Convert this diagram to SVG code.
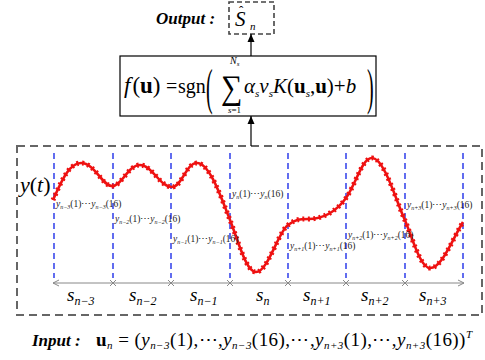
<svg xmlns="http://www.w3.org/2000/svg" width="485" height="360" viewBox="0 0 485 360">
<style>
.serif{font-family:"Liberation Serif","Times New Roman",serif;fill:#000}
.it{font-style:italic}
.bi{font-style:italic;font-weight:bold}
.b{font-weight:bold}
.vline{stroke:#2030e8;stroke-width:1.4;stroke-dasharray:6 4;fill:none}
.lbl{font-family:"Liberation Serif","Times New Roman",serif;font-size:9.5px;fill:#222}
.sub{font-size:6px}
.tick{stroke:#888;stroke-width:1}
.slab{font-family:"Liberation Serif","Times New Roman",serif;font-size:19px;font-style:italic;fill:#000}
.ssub{font-size:12px}
</style>
<defs>
<marker id="ah" markerWidth="10" markerHeight="10" refX="8" refY="5" orient="auto" markerUnits="userSpaceOnUse">
<path d="M0,1.5 L8,5 L0,8.5 Z" fill="#000"/>
</marker>
<marker id="ax" markerWidth="10" markerHeight="10" refX="7" refY="5" orient="auto-start-reverse" markerUnits="userSpaceOnUse">
<path d="M1,2 L7,5 L1,8" fill="none" stroke="#888" stroke-width="1"/>
</marker>
</defs>

<g id="output">
<text class="serif bi" x="156" y="24" font-size="17">Output :</text>
<rect x="229" y="2" width="45" height="32" fill="none" stroke="#444" stroke-width="1.6" stroke-dasharray="5 3"/>
<text class="serif it" x="235" y="26" font-size="21">S</text>
<text class="serif" x="239" y="15" font-size="13">ˆ</text>
<text class="serif it" x="250" y="30" font-size="11">n</text>
</g>

<g id="svm">
<rect x="120" y="56" width="256" height="60" fill="#fff" stroke="#000" stroke-width="1.2"/>
<text class="serif" x="124" y="93" font-size="23"><tspan class="it">f</tspan><tspan dx="2">(</tspan><tspan class="b">u</tspan>)</text>
<text class="serif" x="166" y="93" font-size="20">=</text>
<text class="serif" x="178" y="93" font-size="20">sgn</text>
<text class="serif" font-size="20" transform="translate(206,104) scale(1,2.5)">(</text>
<text class="serif" font-size="30" transform="translate(221,99) scale(1,1.15)">∑</text>
<text class="serif it" x="230" y="64" font-size="10">N<tspan font-size="7" dy="2">s</tspan></text>
<text class="serif" x="228" y="113" font-size="9"><tspan class="it">s</tspan>=1</text>
<text class="serif" x="244" y="93" font-size="21"><tspan class="it">α</tspan><tspan class="it" font-size="11" dy="4">s</tspan><tspan class="it" dy="-4">v</tspan><tspan class="it" font-size="11" dy="4">s</tspan><tspan class="it" dy="-4">K</tspan>(<tspan class="b">u</tspan><tspan class="it" font-size="11" dy="4">s</tspan><tspan dy="-4">,</tspan><tspan class="b">u</tspan>)+<tspan class="it">b</tspan></text>
<text class="serif" font-size="20" transform="translate(367,104) scale(1,2.5)">)</text>
</g>

<g id="input">
<rect x="17" y="146" width="465" height="169" fill="none" stroke="#666" stroke-width="2" stroke-dasharray="8 5"/>
<text class="serif it" x="20" y="192" font-size="22">y<tspan font-style="normal">(</tspan>t<tspan font-style="normal">)</tspan></text>
<g id="segments">
<line class="vline" x1="54" y1="153" x2="54" y2="278"/>
<line class="vline" x1="113" y1="153" x2="113" y2="278"/>
<line class="vline" x1="171" y1="153" x2="171" y2="278"/>
<line class="vline" x1="230" y1="153" x2="230" y2="278"/>
<line class="vline" x1="288" y1="153" x2="288" y2="278"/>
<line class="vline" x1="346" y1="153" x2="346" y2="278"/>
<line class="vline" x1="405" y1="153" x2="405" y2="278"/>
<line class="vline" x1="463" y1="153" x2="463" y2="278"/>
</g>
<g id="signal">
<path d="M53,200 C60,185 68,163 81,163 C95,163 102,186 112,186 C122,186 128,165 140,165 C152,165 160,187 172,187 C182,187 186,163 197,163 C210,163 222,200 230,220 C238,240 246,272 256,272 C268,272 278,232 288,225 C296,219 300,219 308,219 C322,219 336,212 346,198 C356,184 362,158 372,158 C384,158 396,200 404,218 C412,236 420,268 430,268 C442,268 452,240 463,222" fill="none" stroke="#ee1111" stroke-width="2.6"/>
<path d="M53,200 C60,185 68,163 81,163 C95,163 102,186 112,186 C122,186 128,165 140,165 C152,165 160,187 172,187 C182,187 186,163 197,163 C210,163 222,200 230,220 C238,240 246,272 256,272 C268,272 278,232 288,225 C296,219 300,219 308,219 C322,219 336,212 346,198 C356,184 362,158 372,158 C384,158 396,200 404,218 C412,236 420,268 430,268 C442,268 452,240 463,222" fill="none" stroke="#ee1111" stroke-width="5" stroke-dasharray="2 3.5"/>
</g>
<g id="labels">
<text class="lbl it" x="56" y="207"><tspan>y</tspan><tspan class="sub" dy="1.5">n−3</tspan><tspan font-style="normal" dy="-1.5">(1)⋯</tspan><tspan>y</tspan><tspan class="sub" dy="1.5">n−3</tspan><tspan font-style="normal" dy="-1.5">(16)</tspan></text>
<text class="lbl it" x="115" y="222"><tspan>y</tspan><tspan class="sub" dy="1.5">n−2</tspan><tspan font-style="normal" dy="-1.5">(1)⋯</tspan><tspan>y</tspan><tspan class="sub" dy="1.5">n−2</tspan><tspan font-style="normal" dy="-1.5">(16)</tspan></text>
<text class="lbl it" x="173" y="242"><tspan>y</tspan><tspan class="sub" dy="1.5">n−1</tspan><tspan font-style="normal" dy="-1.5">(1)⋯</tspan><tspan>y</tspan><tspan class="sub" dy="1.5">n−1</tspan><tspan font-style="normal" dy="-1.5">(16)</tspan></text>
<text class="lbl it" x="232" y="197"><tspan>y</tspan><tspan class="sub" dy="1.5">n</tspan><tspan font-style="normal" dy="-1.5">(1)⋯</tspan><tspan>y</tspan><tspan class="sub" dy="1.5">n</tspan><tspan font-style="normal" dy="-1.5">(16)</tspan></text>
<text class="lbl it" x="290" y="249"><tspan>y</tspan><tspan class="sub" dy="1.5">n+1</tspan><tspan font-style="normal" dy="-1.5">(1)⋯</tspan><tspan>y</tspan><tspan class="sub" dy="1.5">n+1</tspan><tspan font-style="normal" dy="-1.5">(16)</tspan></text>
<text class="lbl it" x="348" y="238"><tspan>y</tspan><tspan class="sub" dy="1.5">n+2</tspan><tspan font-style="normal" dy="-1.5">(1)⋯</tspan><tspan>y</tspan><tspan class="sub" dy="1.5">n+2</tspan><tspan font-style="normal" dy="-1.5">(16)</tspan></text>
<text class="lbl it" x="407" y="208"><tspan>y</tspan><tspan class="sub" dy="1.5">n+3</tspan><tspan font-style="normal" dy="-1.5">(1)⋯</tspan><tspan>y</tspan><tspan class="sub" dy="1.5">n+3</tspan><tspan font-style="normal" dy="-1.5">(16)</tspan></text>
</g>
<g id="axis">
<line x1="53" y1="283" x2="464" y2="283" stroke="#888" stroke-width="1" marker-start="url(#ax)" marker-end="url(#ax)"/>
<path class="tick" d="M110,280 l6,6 M116,280 l-6,6 M168,280 l6,6 M174,280 l-6,6 M227,280 l6,6 M233,280 l-6,6 M285,280 l6,6 M291,280 l-6,6 M343,280 l6,6 M349,280 l-6,6 M402,280 l6,6 M408,280 l-6,6"/>
<text class="slab" x="67" y="301">s<tspan class="ssub" dy="4">n−3</tspan></text>
<text class="slab" x="129" y="301">s<tspan class="ssub" dy="4">n−2</tspan></text>
<text class="slab" x="190" y="301">s<tspan class="ssub" dy="4">n−1</tspan></text>
<text class="slab" x="256" y="301">s<tspan class="ssub" dy="4">n</tspan></text>
<text class="slab" x="303" y="301">s<tspan class="ssub" dy="4">n+1</tspan></text>
<text class="slab" x="361" y="301">s<tspan class="ssub" dy="4">n+2</tspan></text>
<text class="slab" x="419" y="301">s<tspan class="ssub" dy="4">n+3</tspan></text>
</g>
<text class="serif bi" x="32" y="346" font-size="17">Input :</text>
<text class="serif" x="96" y="346" font-size="19" textLength="376" lengthAdjust="spacing"><tspan class="b">u</tspan><tspan class="it" font-size="11" dy="3">n</tspan><tspan dy="-3"> = (</tspan><tspan class="it">y</tspan><tspan class="it" font-size="11" dy="3">n−3</tspan><tspan dy="-3">(1),⋯,</tspan><tspan class="it">y</tspan><tspan class="it" font-size="11" dy="3">n−3</tspan><tspan dy="-3">(16),⋯,</tspan><tspan class="it">y</tspan><tspan class="it" font-size="11" dy="3">n+3</tspan><tspan dy="-3">(1),⋯,</tspan><tspan class="it">y</tspan><tspan class="it" font-size="11" dy="3">n+3</tspan><tspan dy="-3">(16))</tspan><tspan class="it" font-size="11" dy="-8">T</tspan></text>
</g>

<g id="connectors">
<line x1="251" y1="146" x2="251" y2="116" stroke="#000" stroke-width="1.2" marker-end="url(#ah)"/>
<line x1="251" y1="56" x2="251" y2="34" stroke="#000" stroke-width="1.2" marker-end="url(#ah)"/>
</g>
</svg>
